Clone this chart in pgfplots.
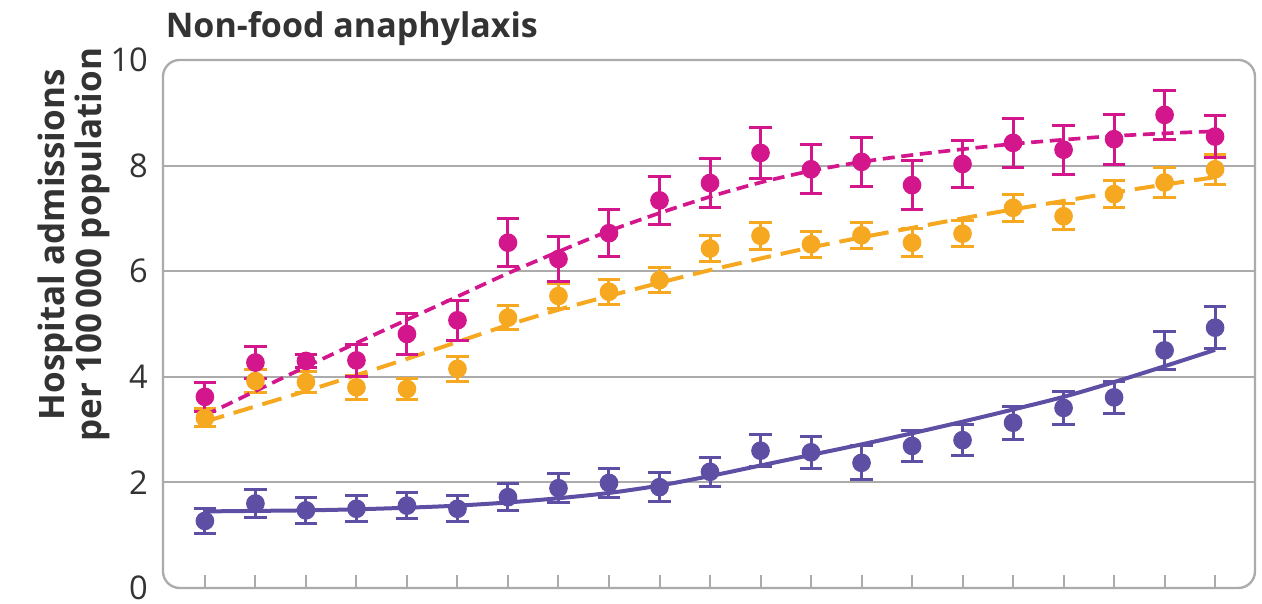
\documentclass[border=0pt]{standalone}
\usepackage{fontspec}
\setmainfont{Open Sans}
\usepackage{pgfplots}
\usepackage{pgfplotstable}
\pgfplotsset{compat=1.18}

\definecolor{magC}{HTML}{D4168C}
\definecolor{orgC}{HTML}{F6A821}
\definecolor{purC}{HTML}{5E4FA5}
\definecolor{gridC}{HTML}{ABABAB}
\definecolor{txtC}{HTML}{333333}

% x = year index, y = rate, e = half CI, f = fitted trend
\pgfplotstableread{
x y e f
1 3.62 0.28 3.27
2 4.27 0.30 3.73
3 4.30 0.13 4.19
4 4.31 0.31 4.64
5 4.81 0.38 5.08
6 5.07 0.38 5.52
7 6.54 0.46 5.96
8 6.23 0.42 6.37
9 6.72 0.45 6.76
10 7.34 0.45 7.10
11 7.67 0.46 7.41
12 8.24 0.48 7.68
13 7.93 0.46 7.90
14 8.07 0.47 8.07
15 7.63 0.46 8.20
16 8.03 0.45 8.31
17 8.43 0.46 8.41
18 8.30 0.46 8.49
19 8.50 0.47 8.56
20 8.96 0.47 8.61
21 8.55 0.40 8.65
}\magdata

\pgfplotstableread{
x y e f
1 3.22 0.17 3.15
2 3.92 0.22 3.44
3 3.90 0.20 3.73
4 3.80 0.23 4.03
5 3.77 0.20 4.34
6 4.15 0.23 4.66
7 5.12 0.23 4.98
8 5.53 0.24 5.27
9 5.61 0.24 5.53
10 5.83 0.24 5.78
11 6.43 0.25 6.02
12 6.67 0.26 6.24
13 6.51 0.25 6.45
14 6.68 0.25 6.64
15 6.54 0.26 6.82
16 6.71 0.25 7.00
17 7.20 0.25 7.17
18 7.04 0.25 7.33
19 7.46 0.26 7.49
20 7.68 0.28 7.64
21 7.93 0.28 7.78
}\orgdata

\pgfplotstableread{
x y e f
1 1.27 0.23 1.45
2 1.60 0.27 1.46
3 1.47 0.25 1.47
4 1.50 0.25 1.49
5 1.56 0.25 1.52
6 1.50 0.25 1.56
7 1.72 0.25 1.62
8 1.89 0.27 1.70
9 1.99 0.28 1.80
10 1.91 0.27 1.94
11 2.20 0.28 2.12
12 2.60 0.30 2.32
13 2.57 0.30 2.52
14 2.37 0.32 2.72
15 2.69 0.30 2.93
16 2.80 0.30 3.15
17 3.13 0.31 3.38
18 3.41 0.31 3.62
19 3.61 0.31 3.90
20 4.50 0.36 4.20
21 4.93 0.40 4.51
}\purdata

\pgfplotsset{
  ptstyle/.style={only marks, mark=*, mark size=2.6pt, color=#1,
    error bars/.cd, y dir=both, y explicit,
    error bar style={line width=0.9pt, solid, #1},
    error mark options={rotate=90, line width=0.9pt, mark size=3.4pt, #1}},
}

\begin{document}
\begin{tikzpicture}
\path[use as bounding box] (0,0) rectangle (378.6pt,181.2pt);
\begin{axis}[
  at={(48.9pt,4.8pt)}, anchor=south west,
  scale only axis, width=327.6pt, height=158.4pt,
  xmin=0.17, xmax=21.79, ymin=0, ymax=10,
  clip=false,
  axis line style={draw=none},
  xtick={1,...,21}, xticklabels={}, xtick pos=bottom,
  tick align=inside, major tick length=4pt,
  xtick style={draw=gridC, line width=0.6pt},
  ytick={0,2,4,6,8,10}, ytick style={draw=none},
  extra y ticks={2,4,6,8}, extra y tick labels={},
  extra y tick style={grid=major},
  major grid style={draw=gridC, line width=0.6pt},
  /pgf/number format/assume math mode=true,
  yticklabel style={font=\fontsize{9.8}{10}\selectfont, text=txtC, xshift=-1pt},
  ylabel={Hospital admissions\\per 100\,000 population},
  ylabel style={align=center, font=\bfseries\fontsize{10.5}{11.1}\selectfont,
    text=txtC, at={(rel axis cs:-0.0815,0.65)}, anchor=center},
]
\draw[gridC, line width=0.7pt, rounded corners=5pt]
  (rel axis cs:0,0) rectangle (rel axis cs:1,1);
\node[anchor=base west, inner sep=0pt, text=txtC,
  font=\bfseries\fontsize{10.2}{11}\selectfont]
  at (rel axis cs:0.002,1.0417) {Non-food anaphylaxis};

\addplot[orgC, line width=1.2pt, smooth, dash pattern=on 6pt off 3pt]
  table[x=x, y=f] {\orgdata};
\addplot[ptstyle=orgC] table[x=x, y=y, y error=e] {\orgdata};

\addplot[magC, line width=1.1pt, smooth, dash pattern=on 3.6pt off 2pt]
  table[x=x, y=f] {\magdata};
\addplot[ptstyle=magC] table[x=x, y=y, y error=e] {\magdata};

\addplot[purC, line width=1.2pt, smooth] table[x=x, y=f] {\purdata};
\addplot[ptstyle=purC] table[x=x, y=y, y error=e] {\purdata};
\end{axis}
\end{tikzpicture}
\end{document}
